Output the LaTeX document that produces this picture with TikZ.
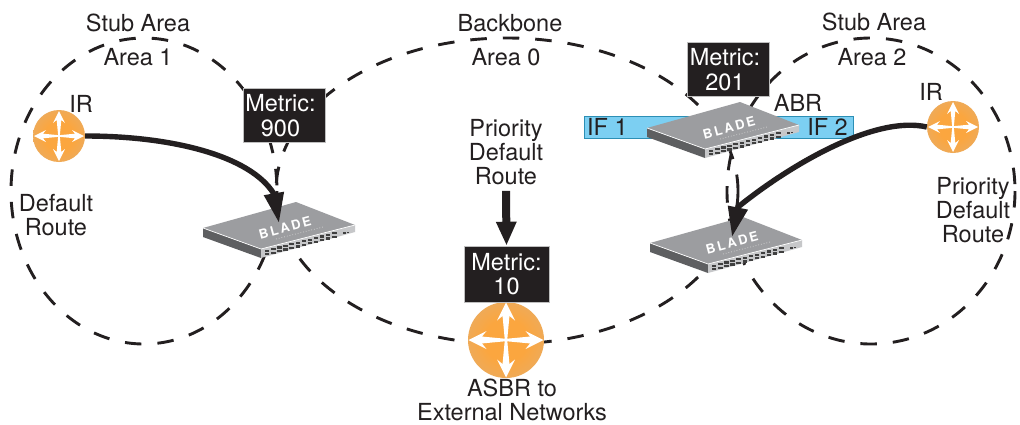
\documentclass[tikz,border=0pt]{standalone}
\usepackage{fontspec}
\setmainfont{TeX Gyre Heros}
\usetikzlibrary{arrows.meta}
\definecolor{ink}{HTML}{231F20}
\definecolor{barblue}{HTML}{7CCFF2}
\definecolor{barline}{HTML}{2C8FB5}
\definecolor{orangein}{HTML}{FBA63F}
\definecolor{orangeout}{HTML}{DDB07C}
\definecolor{swtop}{HTML}{9C9DA0}
\definecolor{swside}{HTML}{5E5F61}
\definecolor{swfront}{HTML}{C6C7C9}
\pgfdeclareradialshading{routerglow}{\pgfpointorigin}{color(0bp)=(orangein); color(14bp)=(orangein); color(42bp)=(orangeout); color(50bp)=(orangeout)}
\tikzset{
  lbl/.style={font=\fontsize{23.5}{24}\selectfont,text=ink,align=center,inner sep=0pt},
  area/.style={draw=ink,line width=2.9pt,dash pattern=on 16.5pt off 16pt},
  metricbox/.style={fill=ink,draw=black!25,line width=.6pt,text=white,font=\fontsize{23.5}{24.5}\selectfont,align=center,inner sep=0pt,minimum width=82pt,minimum height=54pt},
  routerbody/.style={circle,inner sep=0pt,shading=routerglow},
  flow/.style={draw=ink,line width=5.4pt,-{Triangle[width=19pt,length=30pt,sep=0pt]}},
  flowup/.style={draw=ink,line width=8pt,-{Triangle[width=19pt,length=24pt,sep=0pt]}},
  ifbar/.style={fill=barblue,draw=barline,line width=1pt,inner sep=0pt}
}
\newcommand{\routerarrows}[1]{%
  \begin{scope}[scale=#1]
    \foreach \a in {0,90,180,270}{
      \fill[white,rotate=\a] (0,-.8) -- (16,-2.3) -- (13,-6) -- (25,0) -- (13,6) -- (16,2.3) -- (0,.8) -- cycle;
    }
  \end{scope}}
\newcommand{\bladeswitch}[3]{% name, x, y of left corner
  \begin{scope}[shift={(#2,#3)}]
    \fill[swside] (0,0) -- (58,21) -- (58,30) -- (0,9) -- cycle;
    \fill[swfront] (58,21) -- (152,-3) -- (152,4) -- (58,30) -- cycle;
    \fill[swtop] (0,0) -- (93,-26) -- (152,-3) -- (58,21) -- cycle;
    \draw[white,line width=.7pt] (0,0) -- (58,21) -- (152,-3);
    \foreach \i in {0,...,11}{
      \fill[black!75] ({62+6.1*\i},{21.6-1.58*\i}) rectangle +(4.4,2.2);
      \fill[black!75] ({62+6.1*\i},{25.2-1.58*\i}) rectangle +(4.4,2.2);
    }
    \fill[black!75] (140,4.2) rectangle +(2.5,1.5);
    \fill[black!75] (143.5,3.5) rectangle +(2.5,1.5);
    \node[inner sep=0pt,text=white,rotate=15,font=\fontsize{13}{14}\bfseries\selectfont] (#1) at (82,0) {B\kern2.2pt L\kern2.2pt A\kern2.2pt D\kern2.2pt E};
    \draw[black!20,line width=.8pt,dotted] (73,11) -- (120,-1);
  \end{scope}}
\begin{document}
\begin{tikzpicture}[x=1pt,y=-1pt]
\useasboundingbox (0,0) rectangle (1020,424);
\fill[white] (0,0) rectangle (1020,424);
% areas
\draw[area] (144,191) ellipse [x radius=133,y radius=153];
\draw[area] (507,191) ellipse [x radius=231,y radius=153];
\draw[area] (871,191) ellipse [x radius=144,y radius=153];
% IF bar
\node[ifbar,minimum width=269pt,minimum height=22pt] (bar) at (718.5,127) {};
\node[lbl,anchor=west] (if1) at (587,127) {IF 1};
\node[lbl,anchor=east] (if2) at (848,127) {IF 2};
% switches
\bladeswitch{swa}{203}{228}
\bladeswitch{swb}{647}{128}
\bladeswitch{swc}{650}{243}
% routers
\node[routerbody,minimum size=52pt] (ra) at (59,136) {};
\begin{scope}[shift={(ra.center)}]\routerarrows{1}\end{scope}
\node[routerbody,minimum size=52pt] (rb) at (953,127) {};
\begin{scope}[shift={(rb.center)}]\routerarrows{1}\end{scope}
\node[routerbody,minimum size=76pt] (rc) at (506,340) {};
\begin{scope}[shift={(rc.center)}]\routerarrows{1.5}\end{scope}
% flows
\coordinate (basea) at (274,194);
\coordinate (tipa) at (279,223);
\coordinate (baseb) at (738,207);
\coordinate (tipb) at (732,237);
\draw[flow] (ra.east) .. controls (170,136) and (250,155) .. (basea) -- (tipa);
\draw[flow] (rb.west) .. controls (875,115) and (790,165) .. (baseb) -- (tipb);
% boxes
\node[metricbox] (m900) at (284,115.5) {Metric:\kern7pt\\900\kern7pt};
\node[metricbox] (m201) at (728.5,69.5) {Metric:\kern7pt\\201\kern7pt};
\node[metricbox,minimum width=85pt,minimum height=56pt] (m10) at (506.5,274) {Metric:\\10};
% labels
\node[lbl] (t1) at (138,23) {Stub Area};
\node[lbl] (t2) at (138,57) {Area 1};
\node[lbl] (t3) at (510,23) {Backbone};
\node[lbl] (t4) at (506,57) {Area 0};
\node[lbl] (t5) at (874,22) {Stub Area};
\node[lbl] (t6) at (872,57) {Area 2};
\node[lbl] (ira) at (81,104) {IR};
\node[lbl] (irb) at (931,92) {IR};
\node[lbl] (abr) at (798,103) {ABR};
\node[lbl] (dr) at (56,215) {Default\\Route};
\node[lbl] (pa) at (506,152) {Priority\\Default\\Route};
\node[lbl] (pb) at (973,210) {Priority\\Default\\Route};
\node[lbl] (as) at (512,400) {ASBR to\\External Networks};
\draw[flowup] (pa.south) ++(0,6) -- (m10.north);
\end{tikzpicture}
\end{document}
